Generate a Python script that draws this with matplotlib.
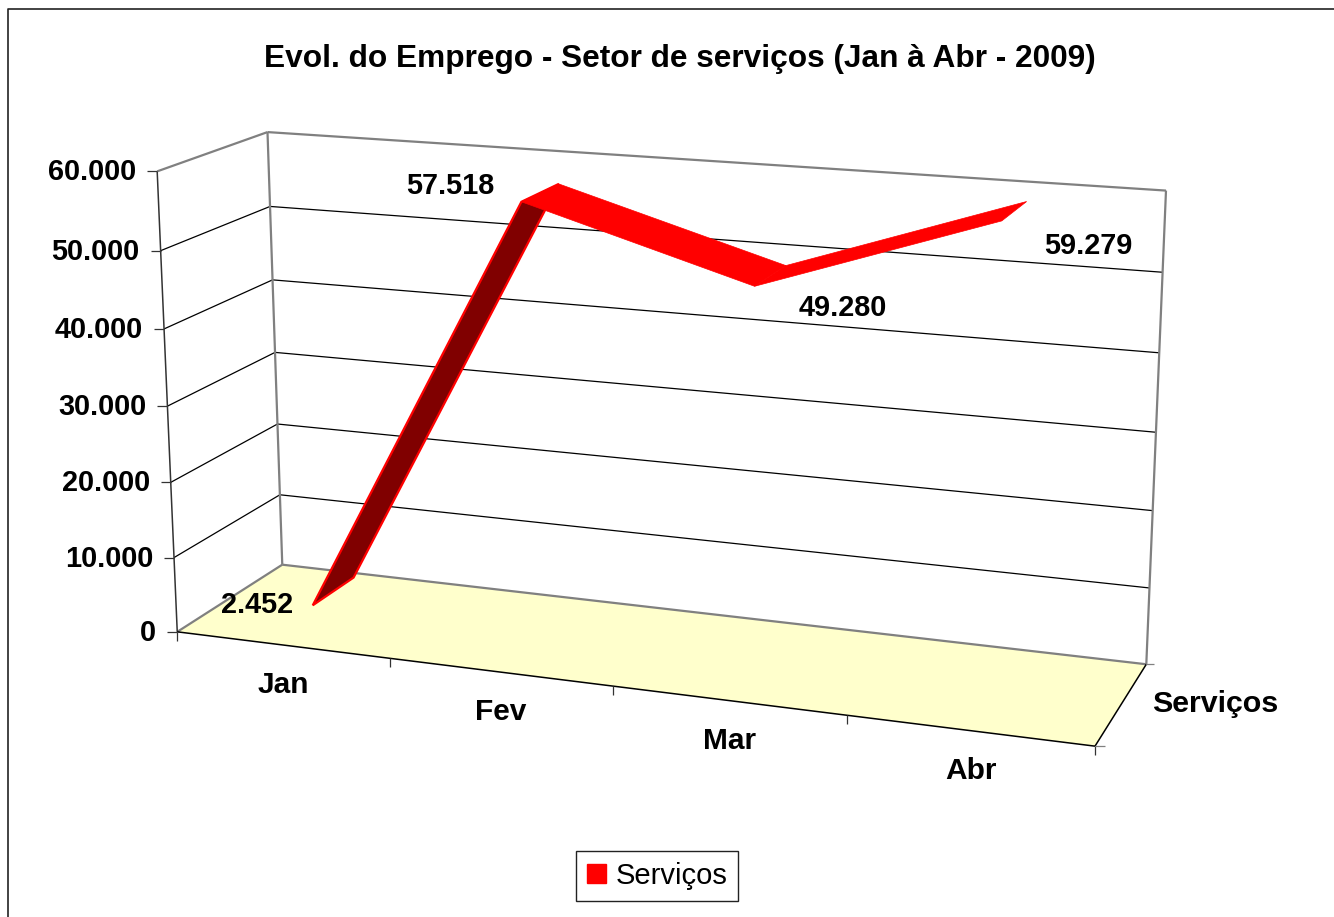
import numpy as np
import matplotlib
matplotlib.use("Agg")
import matplotlib.pyplot as plt
from matplotlib.patches import Polygon, Patch

categories = ["Jan", "Fev", "Mar", "Abr"]
values = [2452, 57518, 49280, 59279]
value_labels = ["2.452", "57.518", "49.280", "59.279"]
y_ticks = [0, 10000, 20000, 30000, 40000, 50000, 60000]
y_tick_labels = ["0", "10.000", "20.000", "30.000", "40.000", "50.000", "60.000"]
series_name = "Serviços"
title = "Evol. do Emprego - Setor de serviços (Jan à Abr - 2009)"

YMAX = 60000.0
ZF, ZB = 0.30, 0.71  # depth of ribbon inside the box

plt.rcParams['font.family'] = ['Liberation Sans', 'DejaVu Sans']


# Fit the camera of the 3d box: (category, value/ymax, depth) -> picture pixels
def fit_camera():
    known = [
        (0, 0, 0, 178, 631), (1, 0, 0, 389, 659), (2, 0, 0, 611, 687),
        (3, 0, 0, 849, 717), (4, 0, 0, 1094, 745),
        (0, 0, 1, 282, 563), (4, 0, 1, 1147, 663),
        (0, 1, 0, 158, 170), (0, 1, 1, 267, 131), (4, 1, 1, 1166, 190),
        (0, 5 / 6, 1, 270, 207), (0, 4 / 6, 1, 273, 281), (0, 3 / 6, 1, 275, 353),
        (0, 2 / 6, 1, 277, 425), (0, 1 / 6, 1, 280, 495),
        (4, 5 / 6, 1, 1162, 273), (4, 4 / 6, 1, 1159, 353), (4, 3 / 6, 1, 1156, 433),
        (4, 2 / 6, 1, 1153, 511), (4, 1 / 6, 1, 1150, 587),
    ]
    rows = []
    for x, y, z, u, v in known:
        rows.append([x, y, z, 1, 0, 0, 0, 0, -u * x, -u * y, -u * z, -u])
        rows.append([0, 0, 0, 0, x, y, z, 1, -v * x, -v * y, -v * z, -v])
    return np.linalg.svd(np.array(rows, dtype=float))[2][-1].reshape(3, 4)


P = fit_camera()


def proj(cat, val, depth):
    p = P @ np.array([cat, val / YMAX, depth, 1.0])
    return p[0] / p[2], p[1] / p[2]


fig = plt.figure(figsize=(13.34, 9.17), dpi=100)
ax = fig.add_axes([0, 0, 1, 1])
ax.set_xlim(0, 1334)
ax.set_ylim(917, 0)
ax.axis("off")

# outer chart frame
ax.plot([8, 8, 1334], [917, 9, 9], color="#222222", lw=1.2)

ax.text(680, 59.5, title, ha="center", va="center", fontsize=22.8, fontweight="bold")

GRAY = "#808080"


def line(a, b, color="black", lw=0.9, z=2):
    ax.plot([a[0], b[0]], [a[1], b[1]], color=color, lw=lw, zorder=z, solid_capstyle="butt")


# floor
ncat = len(categories)
floor = [proj(0, 0, 0), proj(ncat, 0, 0), proj(ncat, 0, 1), proj(0, 0, 1)]
ax.add_patch(Polygon(floor, closed=True, fc="#FFFFCC", ec="none", zorder=1))

# gridlines on the side and back walls, ticks on the value axis
for t in y_ticks[1:-1]:
    line(proj(0, t, 0), proj(0, t, 1))
    line(proj(0, t, 1), proj(ncat, t, 1))
for t, lab in zip(y_ticks, y_tick_labels):
    px, py = proj(0, t, 0)
    line((px - 10, py), (px, py), color="#333333")
    ax.text(px - 21, py + 1, lab, ha="right", va="center", fontsize=20.8, fontweight="bold")

# box edges
line(proj(0, YMAX, 0), proj(0, YMAX, 1), GRAY, 1.6)
line(proj(0, YMAX, 1), proj(ncat, YMAX, 1), GRAY, 1.6)
line(proj(0, YMAX, 1), proj(0, 0, 1), GRAY, 1.6)
line(proj(ncat, YMAX, 1), proj(ncat, 0, 1), GRAY, 1.6)
line(proj(0, 0, 0), proj(0, 0, 1), GRAY, 1.6)
line(proj(0, 0, 1), proj(ncat, 0, 1), GRAY, 1.6)
line(proj(0, YMAX, 0), proj(0, 0, 0), "#333333", 1.1)
line(proj(0, 0, 0), proj(ncat, 0, 0), "black", 1.1)
line(proj(ncat, 0, 0), proj(ncat, 0, 1), "black", 1.1)

# category ticks and labels
for i in range(ncat + 1):
    px, py = proj(i, 0, 0)
    line((px, py), (px, py + 9), color="#333333")
for i, cat in enumerate(categories):
    px, py = proj(i + 0.5, 0, 0)
    ax.text(px + 1, py + 40.5, cat, ha="center", va="center", fontsize=21.5, fontweight="bold")

# depth axis ticks and label
px, py = proj(ncat, 0, 0)
line((px, py), (px + 10, py), color=GRAY)
px, py = proj(ncat, 0, 1)
line((px, py), (px + 8, py), color=GRAY)
ax.text(1215, 704.5, series_name, ha="center", va="center", fontsize=21.9, fontweight="bold")

# ribbon
for i in range(len(values) - 1):
    a, b = values[i], values[i + 1]
    quad = [proj(i + 0.5, a, ZF), proj(i + 0.5, a, ZB),
            proj(i + 1.5, b, ZB), proj(i + 1.5, b, ZF)]
    if b > a * 1.5:
        ax.add_patch(Polygon(quad, closed=True, fc="#800000", ec="#FF0000", lw=1.6, zorder=4))
    else:
        ax.add_patch(Polygon(quad, closed=True, fc="#FF0000", ec="#FF0000", lw=0.5, zorder=5))

# data labels
label_off = [(-56, 0), (-71, -15.5), (88, 22), (87, 25)]
for i, (val, lab) in enumerate(zip(values, value_labels)):
    px, py = proj(i + 0.5, val, ZF)
    ax.text(px + label_off[i][0], py + label_off[i][1], lab, ha="center", va="center",
            fontsize=20.8, fontweight="bold", zorder=6)

# legend
leg = ax.legend(handles=[Patch(fc="#FF0000", ec="#FF0000", label=series_name)],
                loc="center", bbox_to_anchor=(657, 876), bbox_transform=ax.transData,
                fontsize=21, frameon=True, fancybox=False, edgecolor="#222222",
                framealpha=1, handlelength=0.65, handleheight=0.65, handletextpad=0.34,
                borderpad=0.38, borderaxespad=0)
leg.get_frame().set_linewidth(1.0)

fig.savefig("out.png", dpi=100)
